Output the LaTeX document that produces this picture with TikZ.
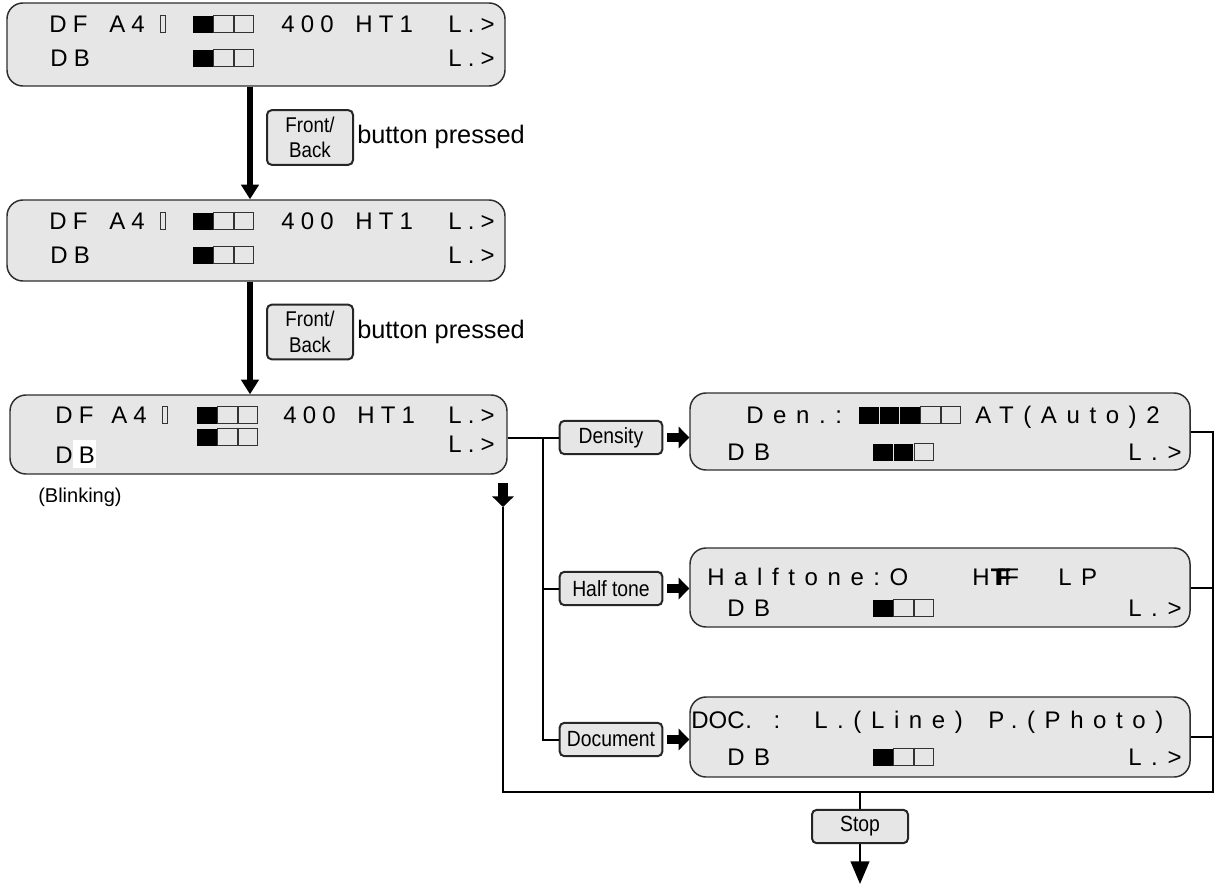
\documentclass[tikz,border=0pt]{standalone}
\usepackage{fontspec}
\setmainfont{Liberation Sans}
\newfontfamily\lcdA[LetterSpace=26]{Liberation Sans}
\newfontfamily\lcdB[LetterSpace=40]{Liberation Sans}
\newfontfamily\narrowfont[FakeStretch=0.88]{Liberation Sans}
\usetikzlibrary{arrows.meta,fit}
\definecolor{panel}{HTML}{E6E6E6}
\definecolor{edge}{HTML}{2E2E2E}
\newcommand\cellrow[4]{%
  \foreach \ci in {1,...,#4}{%
    \pgfmathsetmacro\cx{#1+(\ci-1)*20.5}%
    \ifnum\ci>#3\relax
      \draw[cellline] (\cx,{#2-8.5}) rectangle ++(19.5,17);
    \else
      \fill[black] (\cx,{#2-8.5}) rectangle ++(19.5,17);
    \fi}}
\begin{document}
\begin{tikzpicture}[x=0.75pt,y=-0.75pt,
  panelbox/.style={draw=edge, line width=1.1pt, fill=panel, rounded corners=12pt, inner sep=0pt},
  btn/.style={draw=black!85, line width=1.5pt, fill=panel, rounded corners=3.5pt, inner sep=0pt,
    minimum width=77pt, minimum height=25pt, font=\narrowfont\fontsize{16.5}{18}\selectfont},
  ta/.style={font=\lcdA\fontsize{18}{20}\selectfont, inner sep=0pt, anchor=base west},
  tb/.style={font=\lcdB\fontsize{18}{20}\selectfont, inner sep=0pt, anchor=base west},
  tp/.style={font=\fontsize{18}{20}\selectfont, inner sep=0pt, anchor=base west},
  cellline/.style={draw=black!80, line width=0.7pt},
  conn/.style={draw=black, line width=1.5pt},
  bigarrow/.style={draw=black, line width=4pt, -{Triangle[length=11pt, width=13pt]}},
  blockarrow/.style={draw=black, line width=7pt, -{Triangle[length=8pt, width=16pt]}},
  stoparrow/.style={draw=black, line width=1.5pt, -{Triangle[length=17pt, width=14pt]}},
]
\useasboundingbox (0,0) rectangle (1219,885);

% ---------- Panel 1 ----------
\node[panelbox, fit={(7,3)(505,86)}] (p1) {};
\node[ta] (p1a) at (49,32.5) {DF};
\node[ta] (p1b) at (109,32.5) {A4};
\draw[cellline] (160,15.5) rectangle (165,32.5);
\cellrow{193}{24}{1}{3}
\node[ta] (p1c) at (281,32.5) {400};
\node[ta] (p1d) at (355,32.5) {HT1};
\node[ta] (p1e) at (448,32.5) {L.>};
\node[ta] (p1f) at (50,66.5) {DB};
\cellrow{193}{58}{1}{3}
\node[ta] (p1g) at (448,66.5) {L.>};

% ---------- Panel 2 ----------
\node[panelbox, fit={(7,200)(505,281)}] (p2) {};
\node[ta] (p2a) at (49,229.5) {DF};
\node[ta] (p2b) at (109,229.5) {A4};
\draw[cellline] (160,212.5) rectangle (165,229.5);
\cellrow{193}{221}{1}{3}
\node[ta] (p2c) at (281,229.5) {400};
\node[ta] (p2d) at (355,229.5) {HT1};
\node[ta] (p2e) at (448,229.5) {L.>};
\node[ta] (p2f) at (50,263.5) {DB};
\cellrow{193}{255}{1}{3}
\node[ta] (p2g) at (448,263.5) {L.>};

% ---------- Panel 3 ----------
\node[panelbox, fit={(10,395)(507,474)}] (p3) {};
\node[ta] (p3a) at (55,423.5) {DF};
\node[ta] (p3b) at (111,423.5) {A4};
\draw[cellline] (162,406.5) rectangle (167,423.5);
\cellrow{197}{415}{1}{3}
\node[ta] (p3c) at (283,423.5) {400};
\node[ta] (p3d) at (357,423.5) {HT1};
\node[ta] (p3e) at (448,423.5) {L.>};
\fill[white] (73,440) rectangle (96,468);
\node[ta] (p3f) at (55,463.5) {DB};
\cellrow{197}{437}{1}{3}
\node[ta] (p3g) at (448,452.5) {L.>};
\node[font=\fontsize{15}{18}\selectfont, inner sep=0pt, anchor=west] (blink) at (38,497) {(Blinking)};

% ---------- Front/Back buttons ----------
\node[btn, minimum width=64.5pt, minimum height=41pt, align=center,
  font=\narrowfont\fontsize{16}{19}\selectfont] (fb1) at (310,137.5) {Front/\\Back};
\node[font=\fontsize{19}{22}\selectfont, inner sep=0pt, anchor=west] (bp1) at (357,137) {button pressed};
\node[btn, minimum width=64.5pt, minimum height=41pt, align=center,
  font=\narrowfont\fontsize{16}{19}\selectfont] (fb2) at (310,332) {Front/\\Back};
\node[font=\fontsize{19}{22}\selectfont, inner sep=0pt, anchor=west] (bp2) at (357,332) {button pressed};

\coordinate (ax) at (250,0);
\draw[bigarrow] (p1.south -| ax) -- (p2.north -| ax);
\draw[bigarrow] (p2.south -| ax) -- (p3.north -| ax);

% ---------- Right panels ----------
\node[panelbox, fit={(690,393)(1190,470)}] (den) {};
\node[tb] (dena) at (746,423) {Den.:};
\cellrow{859}{415}{3}{5}
\node[tb] (denb) at (975,423) {AT(Auto)2};
\node[tb] (denc) at (727,460) {DB};
\cellrow{873}{452}{2}{3}
\node[tb] (dend) at (1128,460) {L.>};

\node[panelbox, fit={(690,548)(1190,627)}] (ht) {};
\node[tb] (hta) at (707,585) {Halftone:O};
\node[tp] (htb) at (972,585) {H\kern1pt\rlap{\textbf{T}}\kern4pt\textbf{F}\kern-5pt F};
\node[tb] (htc) at (1058,585) {LP};
\node[tb] (htd) at (727,616) {DB};
\cellrow{873}{608}{1}{3}
\node[tb] (hte) at (1128,616) {L.>};

\node[panelbox, fit={(690,697)(1190,777)}] (doc) {};
\node[tp] (doca) at (691,728) {DOC};
\node[tb] (docb) at (745,728) {. :};
\node[tb] (docc) at (814,728) {L.(Line)};
\node[tb] (docd) at (988,728) {P.(Photo)};
\node[tb] (doce) at (727,765) {DB};
\cellrow{873}{757}{1}{3}
\node[tb] (docf) at (1128,765) {L.>};

% ---------- Function buttons ----------
\node[btn] (bden) at (611,437.5) {Density};
\node[btn] (bht) at (611,588.5) {Half tone};
\node[btn] (bdoc) at (611,739.5) {Document};
\node[btn, minimum width=72pt] (bstop) at (860,826.5) {Stop};

% ---------- connectors ----------
\coordinate (br) at (543,437.5);
\draw[conn] (p3.east |- bden.west) -- (bden.west);
\draw[conn] (br) |- (bdoc.west);
\draw[conn] (br |- bht.west) -- (bht.west);

\draw[blockarrow, shorten <=3pt] (bden.east) -- (den.west |- bden.east);
\draw[blockarrow, shorten <=3pt] (bht.east) -- (ht.west |- bht.east);
\draw[blockarrow, shorten <=3pt] (bdoc.east) -- (doc.west |- bdoc.east);

\coordinate (lr) at (1213,792);
\coordinate (ll) at (503,792);
\coordinate (lt) at (503,507);
\coordinate (sa) at (503,483);
\draw[conn, line join=miter] (den.east) -| (lr) -- (ll) -- (lt);
\draw[conn] (ht.east) -- (ht.east -| lr);
\draw[conn] (doc.east) -- (doc.east -| lr);
\draw[blockarrow] (sa) -- (lt);

\coordinate (st) at (860,792);
\coordinate (stend) at (860,884);
\draw[conn] (st) -- (bstop.north);
\draw[stoparrow] (bstop.south) -- (stend);
\end{tikzpicture}
\end{document}
